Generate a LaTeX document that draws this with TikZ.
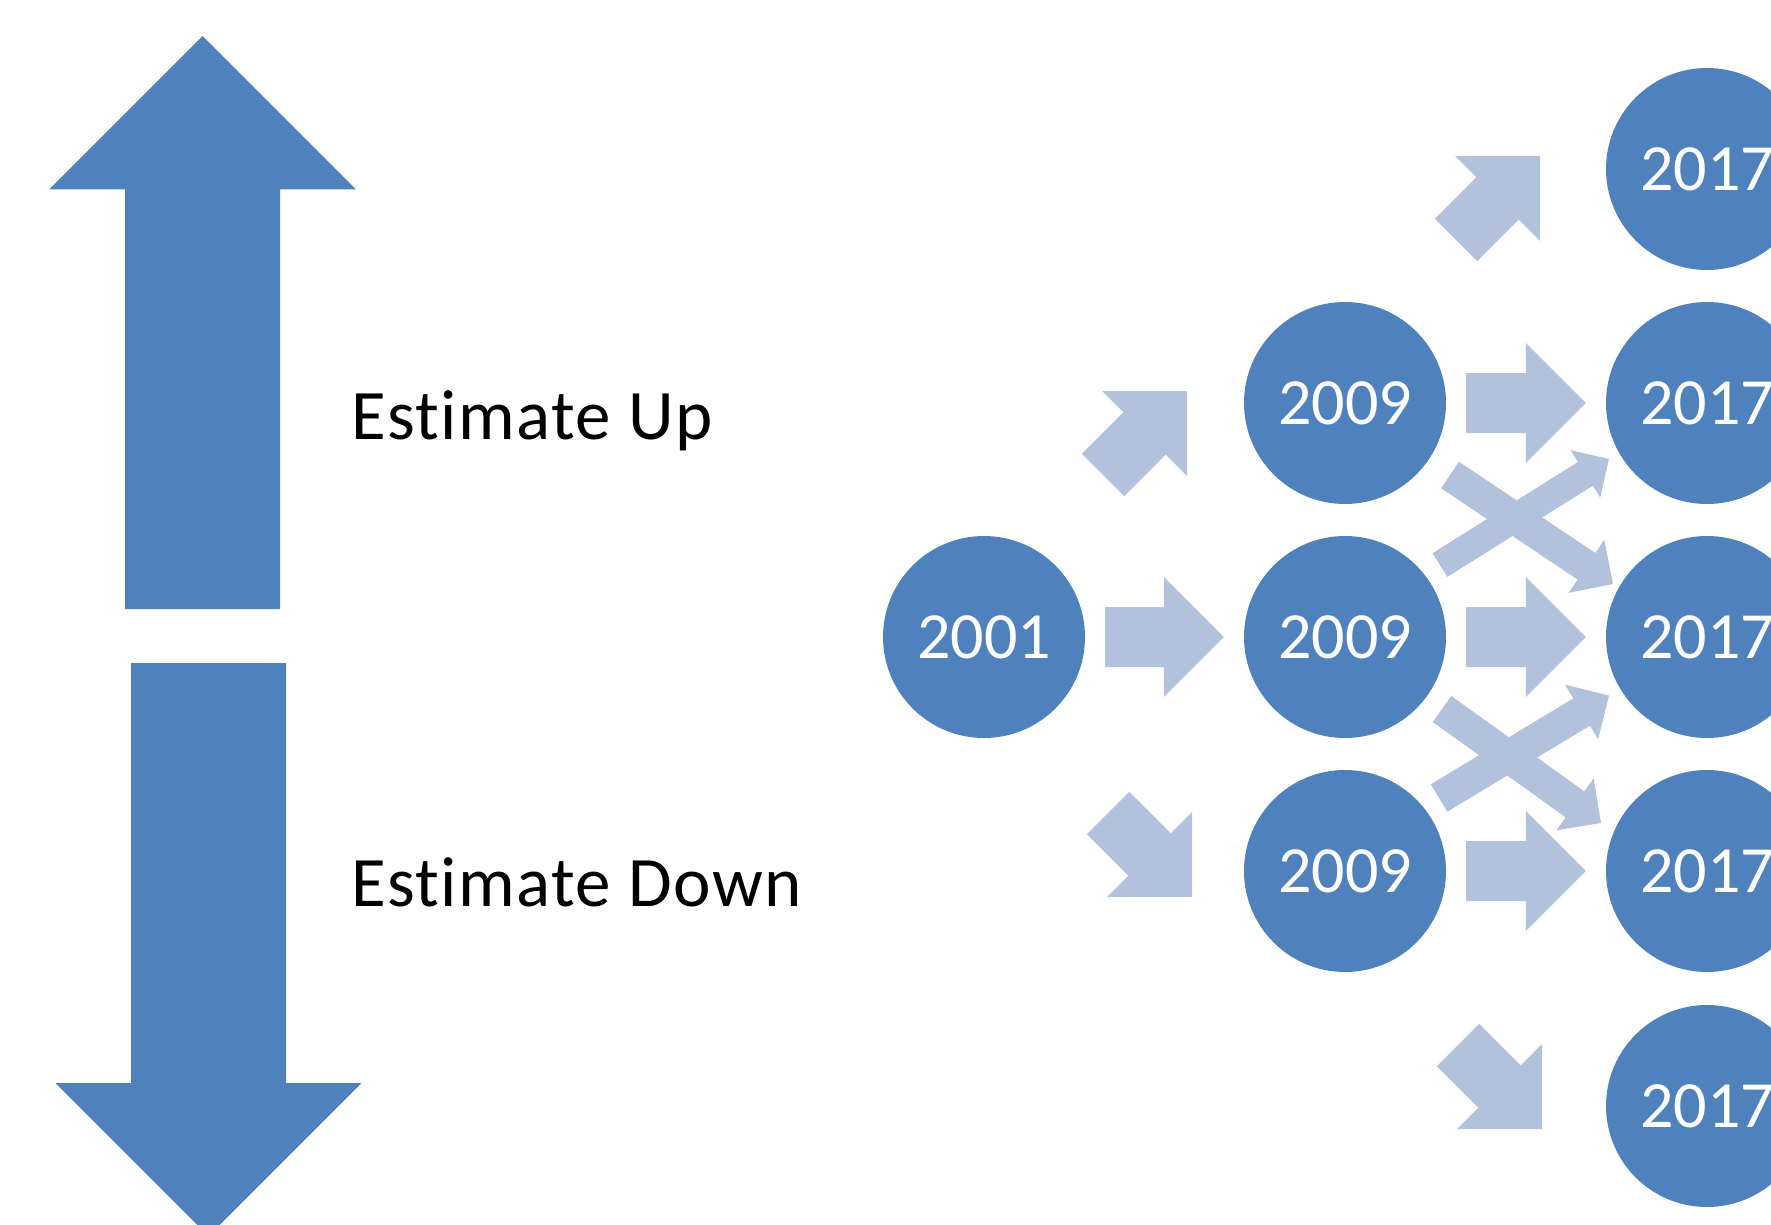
\documentclass[tikz,border=0pt]{standalone}
\usepackage{fontspec}
\setmainfont{Carlito}[Ligatures=NoCommon]
\newfontfamily\captionfont{Carlito}[Ligatures=NoCommon, LetterSpace=2]
\usetikzlibrary{calc}
\definecolor{yearblue}{HTML}{4F81BD}
\definecolor{paleblue}{HTML}{B3C2DC}
\tikzset{
  year/.style={circle, fill=yearblue, minimum size=202pt, inner sep=0pt,
    text=white, font=\fontsize{66}{66}\selectfont},
  caption/.style={anchor=base west, inner sep=0pt,
    font=\captionfont\fontsize{71}{71}\selectfont},
}
% block arrow: colour, tail, tip, shaft half-width, head half-width (= head length)
\newcommand\blockarrow[5]{%
  \coordinate (ba-base) at ($(#3)!#5!(#2)$);
  \fill[#1] ($(#2)!#4!90:(#3)$) -- ($(ba-base)!#4!90:(#3)$)
    -- ($(ba-base)!#5!90:(#3)$) -- (#3) -- ($(ba-base)!#5!-90:(#3)$)
    -- ($(ba-base)!#4!-90:(#3)$) -- ($(#2)!#4!-90:(#3)$) -- cycle;
}
\begin{document}
\begin{tikzpicture}[x=1pt,y=-1pt]
\useasboundingbox (0,0) rectangle (1771,1225);
\clip (0,0) rectangle (1771,1225);

% large up / down arrows
\coordinate (upT) at (202.5,609);
\coordinate (upH) at (202.5,36);
\blockarrow{yearblue}{upT}{upH}{77.5pt}{153.5pt}
\coordinate (dnT) at (208.5,663);
\coordinate (dnH) at (208.5,1236);
\blockarrow{yearblue}{dnT}{dnH}{77.5pt}{153pt}

\node[caption] (up) at (351,439) {Estimate Up};
\node[caption] (down) at (351,906) {Estimate Down};

% year circles
\node[year] (y01) at (984,637) {2001};
\node[year] (y09a) at (1345,403) {2009};
\node[year] (y09b) at (1345,637) {2009};
\node[year] (y09c) at (1345,871) {2009};
\node[year] (y17a) at (1707,169) {2017};
\node[year] (y17b) at (1707,403) {2017};
\node[year] (y17c) at (1707,637) {2017};
\node[year] (y17d) at (1707,871) {2017};
\node[year] (y17e) at (1707,1106) {2017};

% straight arrows
\coordinate (s1T) at ($(y01.east)+(20,0)$);
\coordinate (s1H) at ($(y09b.west)+(-20,0)$);
\blockarrow{paleblue}{s1T}{s1H}{30pt}{60pt}
\coordinate (s2T) at ($(y09a.east)+(20,0)$);
\coordinate (s2H) at ($(y17b.west)+(-20,0)$);
\blockarrow{paleblue}{s2T}{s2H}{30pt}{60pt}
\coordinate (s3T) at ($(y09b.east)+(20,0)$);
\coordinate (s3H) at ($(y17c.west)+(-20,0)$);
\blockarrow{paleblue}{s3T}{s3H}{30pt}{60pt}
\coordinate (s4T) at ($(y09c.east)+(20,0)$);
\coordinate (s4H) at ($(y17d.west)+(-20,0)$);
\blockarrow{paleblue}{s4T}{s4H}{30pt}{60pt}

% diagonal arrows
\coordinate (d1T) at (1103,475);  \coordinate (d1H) at (1187,391);
\blockarrow{paleblue}{d1T}{d1H}{30pt}{60pt}
\coordinate (d2T) at (1108,813);  \coordinate (d2H) at (1192,897);
\blockarrow{paleblue}{d2T}{d2H}{30pt}{60pt}
\coordinate (d3T) at (1456,240);  \coordinate (d3H) at (1540,156);
\blockarrow{paleblue}{d3T}{d3H}{30pt}{60pt}
\coordinate (d4T) at (1458,1045); \coordinate (d4H) at (1542,1129);
\blockarrow{paleblue}{d4T}{d4H}{30pt}{60pt}

% crossing arrows
\coordinate (x1T) at (1440,565);  \coordinate (x1H) at (1609,459);
\blockarrow{paleblue}{x1T}{x1H}{14pt}{28pt}
\coordinate (x2T) at (1450,475);  \coordinate (x2H) at (1613,584);
\blockarrow{paleblue}{x2T}{x2H}{16pt}{32pt}
\coordinate (x3T) at (1439,798);  \coordinate (x3H) at (1609,695.5);
\blockarrow{paleblue}{x3T}{x3H}{16pt}{32pt}
\coordinate (x4T) at (1442,709);  \coordinate (x4H) at (1601,823);
\blockarrow{paleblue}{x4T}{x4H}{16pt}{32pt}
\end{tikzpicture}
\end{document}
